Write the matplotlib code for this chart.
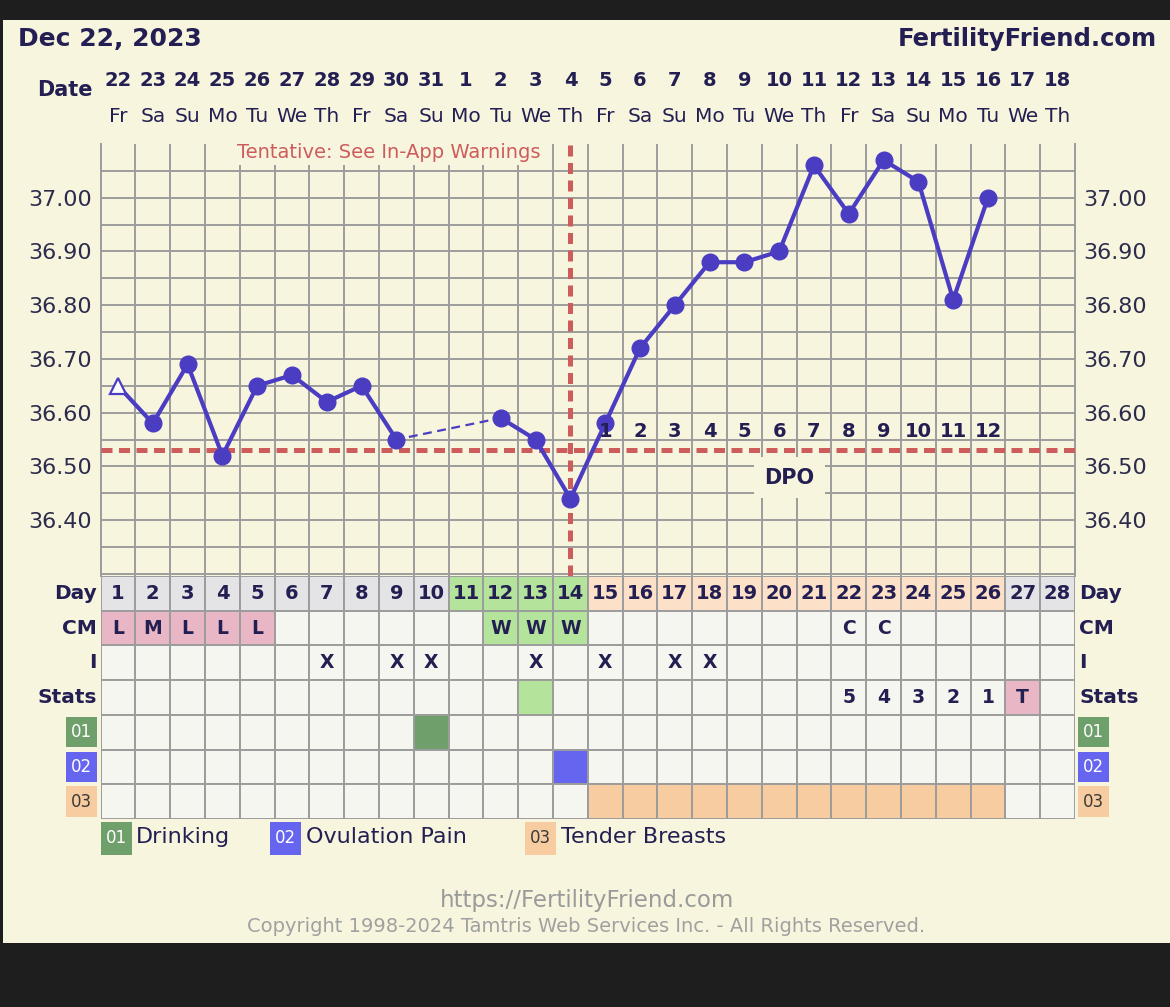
import matplotlib
matplotlib.use("Agg")
import matplotlib.pyplot as plt
from matplotlib.patches import Rectangle
import numpy as np

# ---------------------------------------------------------------------------
# Chart data
# ---------------------------------------------------------------------------

cycle_days = list(range(1, 29))
dates = ["22", "23", "24", "25", "26", "27", "28", "29", "30", "31", "1", "2", "3", "4",
         "5", "6", "7", "8", "9", "10", "11", "12", "13", "14", "15", "16", "17", "18"]
weekdays = ["Fr", "Sa", "Su", "Mo", "Tu", "We", "Th"] * 4
temps = [36.65, 36.58, 36.69, 36.52, 36.65, 36.67, 36.62, 36.65, 36.55, None,
         None, 36.59, 36.55, 36.44, 36.58, 36.72, 36.80, 36.88, 36.88, 36.90,
         37.06, 36.97, 37.07, 37.03, 36.81, 37.00, None, None]
open_marker_days = [1]
coverline = 36.53
ovulation_day = 14
dpo_days = [15, 16, 17, 18, 19, 20, 21, 22, 23, 24, 25, 26]
dpo_labels = ["1", "2", "3", "4", "5", "6", "7", "8", "9", "10", "11", "12"]
y_ticks = [36.40, 36.50, 36.60, 36.70, 36.80, 36.90, 37.00]

fertile_days = [11, 12, 13, 14]
luteal_days = [15, 16, 17, 18, 19, 20, 21, 22, 23, 24, 25, 26]
cm_days = [1, 2, 3, 4, 5, 12, 13, 14, 22, 23]
cm_values = ["L", "M", "L", "L", "L", "W", "W", "W", "C", "C"]
intercourse_days = [7, 9, 10, 13, 15, 17, 18]
stats_days = [22, 23, 24, 25, 26, 27]
stats_values = ["5", "4", "3", "2", "1", "T"]
stats_green_days = [13]
stats_pink_days = [27]

symptom_codes = ["01", "02", "03"]
symptom_names = ["Drinking", "Ovulation Pain", "Tender Breasts"]
symptom_days = [[10], [14], [15, 16, 17, 18, 19, 20, 21, 22, 23, 24, 25, 26]]

# ---------------------------------------------------------------------------
# Style
# ---------------------------------------------------------------------------

W, H = 1170, 1007
DARK = "#1e1e1e"
CREAM = "#f8f5df"
NAVY = "#241f52"
TICK = "#2c2b4c"
GRID = "#9c9c9c"
LINE = "#4a3dc2"
RED = "#cd5c5c"
CELL = "#f6f6f1"
HEAD = "#e4e4e7"
GREEN = "#b4e39c"
PEACH = "#fce1c8"
PINK = "#e8b6c5"
SYM_COLORS = ["#6f9f6b", "#6565f0", "#f6cca0"]
SYM_TEXT = ["white", "white", "#3a3a3a"]

plt.rcParams["font.family"] = ["DejaVu Sans"]


def fx(px):
    return px / W


def fy(py):
    return 1 - py / H


L_PX, R_PX = 100.6, 1075.0

fig = plt.figure(figsize=(W / 100, H / 100), dpi=100, facecolor=DARK)
fig.add_artist(Rectangle((fx(3), fy(943)), fx(1167), fy(20) - fy(943),
                         transform=fig.transFigure, facecolor=CREAM,
                         edgecolor="none", zorder=0))

# ---------------------------------------------------------------------------
# Temperature chart
# ---------------------------------------------------------------------------

ax = fig.add_axes([fx(L_PX), fy(576), fx(R_PX) - fx(L_PX), fy(144) - fy(576)])
ax.set_facecolor(CREAM)
ax.set_xlim(0.5, 28.5)
ax.set_ylim(36.296, 37.10)

ax.set_xticks([])
ax.set_xticks(np.arange(0.5, 28.6, 1), minor=True)
ax.set_yticks(y_ticks)
ax.set_yticklabels([f"{v:.2f}" for v in y_ticks])
ax.set_yticks(np.arange(36.30, 37.06, 0.05), minor=True)
ax.tick_params(which="both", length=0)
ax.tick_params(axis="y", labelleft=True, labelright=True, labelsize=16,
               labelcolor=TICK, pad=6)
ax.grid(which="both", color=GRID, lw=1.4, zorder=1)
ax.set_axisbelow(True)
for side in ("top", "bottom"):
    ax.spines[side].set_visible(False)
for side in ("left", "right"):
    ax.spines[side].set_color(GRID)
    ax.spines[side].set_linewidth(1.4)

ax.axhline(coverline, color=RED, lw=3.6, ls=(0, (2.2, 1.3)), zorder=3)
ax.axvline(ovulation_day, color=RED, lw=3.6, ls=(0, (2.2, 1.3)), zorder=3)

x = np.array(cycle_days, dtype=float)
t = np.array([np.nan if v is None else v for v in temps])
valid = ~np.isnan(t)
# dashed bridge over days without a reading
ax.plot(x[valid], t[valid], color=LINE, lw=1.6, ls=(0, (4, 2.5)), zorder=4)
ax.plot(x, t, color=LINE, lw=3, zorder=5)
is_open = np.isin(x, open_marker_days)
ax.plot(x[valid & ~is_open], t[valid & ~is_open], "o", ms=12, color=LINE, zorder=6)
ax.plot(x[valid & is_open], t[valid & is_open], "^", ms=12, mfc="white",
        mec=LINE, mew=1.6, zorder=6)

for d, lab in zip(dpo_days, dpo_labels):
    ax.text(d, 36.565, lab, ha="center", va="center", fontsize=14,
            fontweight="bold", color=NAVY, zorder=7)
ax.text(20.3, 36.479, "DPO", ha="center", va="center", fontsize=15,
        fontweight="bold", color=NAVY, zorder=7,
        bbox=dict(boxstyle="square,pad=0.5", fc=CREAM, ec="none"))
ax.text(8.79, 37.085, "Tentative: See In-App Warnings", ha="center", va="center",
        fontsize=14, color=RED, zorder=7,
        bbox=dict(boxstyle="square,pad=0.2", fc=CREAM, ec="none"))

# header: dates and weekdays
hdr = ax.get_xaxis_transform()
for d, dt, wd in zip(cycle_days, dates, weekdays):
    ax.text(d, (576 - 80) / 432, dt, transform=hdr, ha="center", va="center",
            fontsize=14, fontweight="bold", color=NAVY)
    ax.text(d, (576 - 117) / 432, wd, transform=hdr, ha="center", va="center",
            fontsize=14.5, color=NAVY)
ax.text(0.27, (576 - 90) / 432, "Date", transform=hdr, ha="right", va="center",
        fontsize=15, fontweight="bold", color=NAVY)

fig.text(fx(18), fy(39), "Dec 22, 2023", ha="left", va="center", fontsize=18,
         fontweight="bold", color=NAVY)
fig.text(fx(1157), fy(39), "FertilityFriend.com", ha="right", va="center",
         fontsize=17.5, fontweight="bold", color=NAVY)

# ---------------------------------------------------------------------------
# Observation table
# ---------------------------------------------------------------------------

axt = fig.add_axes([fx(L_PX), fy(819), fx(R_PX) - fx(L_PX), fy(576) - fy(819)])
axt.set_xlim(0.5, 28.5)
axt.set_ylim(7, 0)
axt.axis("off")

cm_map = dict(zip(cm_days, cm_values))
stats_map = dict(zip(stats_days, stats_values))
for d in cycle_days:
    if d in fertile_days:
        head_fc = GREEN
    elif d in luteal_days:
        head_fc = PEACH
    else:
        head_fc = HEAD
    cm_fc = CELL
    if cm_map.get(d) in ("L", "M"):
        cm_fc = PINK
    elif cm_map.get(d) == "W":
        cm_fc = GREEN
    st_fc = GREEN if d in stats_green_days else PINK if d in stats_pink_days else CELL
    fills = [head_fc, cm_fc, CELL, st_fc]
    for k, days in enumerate(symptom_days):
        fills.append(SYM_COLORS[k] if d in days else CELL)
    for row, fc in enumerate(fills):
        axt.add_patch(Rectangle((d - 0.5, row), 1, 1, facecolor=fc,
                                edgecolor=GRID, lw=1.4))
    axt.text(d, 0.5, str(d), ha="center", va="center", fontsize=14,
             fontweight="bold", color=NAVY)
    if d in cm_map:
        axt.text(d, 1.5, cm_map[d], ha="center", va="center", fontsize=13.5,
                 fontweight="bold", color=NAVY)
    if d in intercourse_days:
        axt.text(d, 2.5, "X", ha="center", va="center", fontsize=13.5,
                 fontweight="bold", color=NAVY)
    if d in stats_map:
        axt.text(d, 3.5, stats_map[d], ha="center", va="center", fontsize=13.5,
                 fontweight="bold", color=NAVY)

row_names = ["Day", "CM", "I", "Stats"]
for row, name in enumerate(row_names):
    axt.text(0.4, row + 0.5, name, ha="right", va="center", fontsize=14.5,
             fontweight="bold", color=NAVY, clip_on=False)
    axt.text(28.62, row + 0.5, name, ha="left", va="center", fontsize=14.5,
             fontweight="bold", color=NAVY, clip_on=False)

for k, code in enumerate(symptom_codes):
    row = 4 + k
    for x0 in (-0.49, 28.59):
        axt.add_patch(Rectangle((x0, row + 0.06), 0.88, 0.88, facecolor=SYM_COLORS[k],
                                edgecolor="none", clip_on=False))
        axt.text(x0 + 0.44, row + 0.5, code, ha="center", va="center", fontsize=12,
                 color=SYM_TEXT[k], clip_on=False)

# legend
legend_x = [0.5, 5.37, 12.7]
for k, (code, name) in enumerate(zip(symptom_codes, symptom_names)):
    x0 = legend_x[k]
    axt.add_patch(Rectangle((x0, 7.09), 0.9, 0.95, facecolor=SYM_COLORS[k],
                            edgecolor="none", clip_on=False))
    axt.text(x0 + 0.45, 7.55, code, ha="center", va="center", fontsize=12,
             color=SYM_TEXT[k], clip_on=False)
    axt.text(x0 + 1.02, 7.52, name, ha="left", va="center", fontsize=16,
             color=NAVY, clip_on=False)

fig.text(fx(587), fy(900), "https://FertilityFriend.com", ha="center", va="center",
         fontsize=16.5, color="#9a9a9a")
fig.text(fx(586), fy(927), "Copyright 1998-2024 Tamtris Web Services Inc. - All Rights Reserved.",
         ha="center", va="center", fontsize=14, color="#a0a0a0")

fig.savefig("out.png", dpi=100, facecolor=DARK)
